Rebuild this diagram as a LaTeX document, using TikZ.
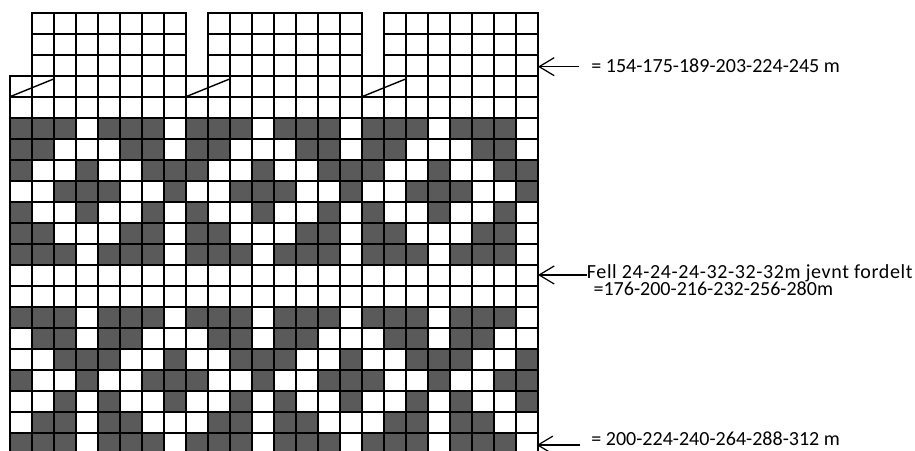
\documentclass[tikz,border=0pt]{standalone}
\usepackage{fontspec}
\usetikzlibrary{arrows.meta}
\newfontfamily\lblfont{Carlito}
\newfontfamily\fellfont{Carlito}[LetterSpace=3]
\definecolor{knit}{HTML}{5A5A5A}
\begin{document}
\begin{tikzpicture}[x=0.44cm,y=0.42cm,
  cell/.style={line width=1.3pt},
  lbl/.style={inner sep=0pt,anchor=base west,font=\lblfont\fontsize{11.4}{13.7}\selectfont},
  barb/.style={line width=0.7pt,-{Straight Barb[length=0.3cm,width=0.36cm]}}]
 \useasboundingbox (-0.4545,0.605) rectangle (41.136,-20.871);
 \foreach \r/\cols in {5/{0,1,2,4,5,6},6/{0,1,5,6},7/{0,3,6,7},8/{2,3,4,7},
   9/{0,3,6},10/{0,1,5,6},11/{0,1,2,4,5,6},14/{0,1,2,4,5,6},15/{1,2,4,5},
   16/{2,3,4,7},17/{0,3,6,7},18/{2,4,7},19/{1,2,4,5},20/{0,1,2,4,5,6}}{
   \foreach \k in {0,1,2}{
     \foreach \c in \cols
       \fill[knit] (\c+8*\k,-\r) rectangle ++(1,-1);
   }
 }
 \foreach \r in {3,...,20}{
   \foreach \c in {0,...,23}
     \draw[cell] (\c,-\r) rectangle ++(1,-1);
 }
 \foreach \k in {0,1,2}{
   \foreach \r in {0,1,2}{
     \foreach \c in {1,...,7}
       \draw[cell] (\c+8*\k,-\r) rectangle ++(1,-1);
   }
   \draw[line width=0.8pt] (8*\k,-4) -- (8*\k+2,-3.15);
 }
 \coordinate (e154) at (24,-2.57);
 \coordinate (efell) at (24,-12.49);
 \coordinate (e200) at (23.94,-20.59);
 \node[lbl] (t154) at (26.41,-2.84) {= 154-175-189-203-224-245 m};
 \node[lbl,font=\fellfont\fontsize{11.4}{13.7}\selectfont] (tfell) at (26.21,-12.65) {Fell 24-24-24-32-32-32m jevnt fordelt};
 \node[lbl] (tfell2) at (26.51,-13.49) {=176-200-216-232-256-280m};
 \node[lbl] (t200) at (26.41,-20.62) {= 200-224-240-264-288-312 m};
 \draw[barb,shorten <=0.24cm] (t154.west |- e154) -- (e154);
 \draw[barb] (tfell.west |- efell) -- (efell);
 \draw[barb,shorten <=0.22cm] (t200.west |- e200) -- (e200);
\end{tikzpicture}
\end{document}
